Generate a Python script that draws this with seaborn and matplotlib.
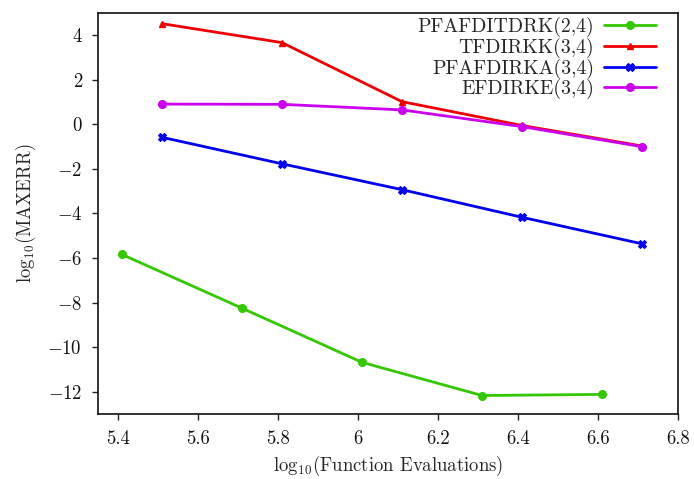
import matplotlib
matplotlib.use("Agg")
import matplotlib.pyplot as plt
import seaborn as sns
import pandas as pd

# Data
x_green = [5.41, 5.71, 6.01, 6.31, 6.61]
y_pfafditdrk = [-5.84, -8.25, -10.68, -12.17, -12.12]
x_other = [5.51, 5.81, 6.11, 6.41, 6.71]
y_tfdirkk = [4.52, 3.67, 1.02, -0.05, -0.97]
y_pfafdirka = [-0.58, -1.77, -2.93, -4.17, -5.36]
y_efdirke = [0.91, 0.90, 0.65, -0.10, -1.00]
labels = ["PFAFDITDRK(2,4)", "TFDIRKK(3,4)", "PFAFDIRKA(3,4)", "EFDIRKE(3,4)"]
xticks = [5.4, 5.6, 5.8, 6.0, 6.2, 6.4, 6.6, 6.8]
xticklabels = ["5.4", "5.6", "5.8", "6", "6.2", "6.4", "6.6", "6.8"]
yticks = [4, 2, 0, -2, -4, -6, -8, -10, -12]

sns.set_style("white")
plt.rcParams["font.family"] = ["cmr10", "DejaVu Serif"]
plt.rcParams["mathtext.fontset"] = "cm"
plt.rcParams["axes.formatter.use_mathtext"] = True
plt.rcParams["axes.unicode_minus"] = True

fig = plt.figure(figsize=(6.94, 4.79), dpi=100)
ax = fig.add_axes([0.1412, 0.1357, 0.8357, 0.8372])

series = [
    (x_green, y_pfafditdrk, labels[0], "#33c800", "o", 5.5, 1),
    (x_other, y_tfdirkk, labels[1], "#ee0000", "^", 4, 1),
    (x_other, y_pfafdirka, labels[2], "#0000ee", "X", 6, 0.8),
    (x_other, y_efdirke, labels[3], "#cc00ee", "o", 5.5, 1),
]
for xs, ys, lab, col, mk, ms, mew in series:
    df = pd.DataFrame({"x": xs, "y": ys})
    sns.lineplot(data=df, x="x", y="y", ax=ax, color=col, marker=mk,
                 markersize=ms, markeredgecolor=col, markeredgewidth=mew,
                 linewidth=2, label=lab)

ax.set_xlim(5.35, 6.8)
ax.set_ylim(-13, 5)
ax.set_xticks(xticks)
ax.set_xticklabels(xticklabels)
ax.set_yticks(yticks)
ax.set_yticklabels([f"${v}$" if v < 0 else str(v) for v in yticks])
ax.tick_params(direction="out", length=4.5, width=1, labelsize=13.5,
               bottom=True, left=True, colors="#222222", labelcolor="#111111")
ax.tick_params(axis="x", pad=7)
ax.tick_params(axis="y", pad=7)
for s in ax.spines.values():
    s.set_color("#111111")
    s.set_linewidth(1.2)
ax.set_xlabel(r"$\mathregular{log_{10}}$(Function Evaluations)", fontsize=13.5,
              labelpad=4)
ax.set_ylabel(r"$\mathregular{log_{10}}$(MAXERR)", fontsize=13.5, labelpad=7)

leg = ax.legend(loc="upper right", bbox_to_anchor=(0.962, 0.99),
                frameon=False, markerfirst=False, fontsize=14.3,
                handlelength=2.6, labelspacing=0.03, borderaxespad=0,
                borderpad=0, handletextpad=0.5)

fig.savefig("out.png", dpi=100)
